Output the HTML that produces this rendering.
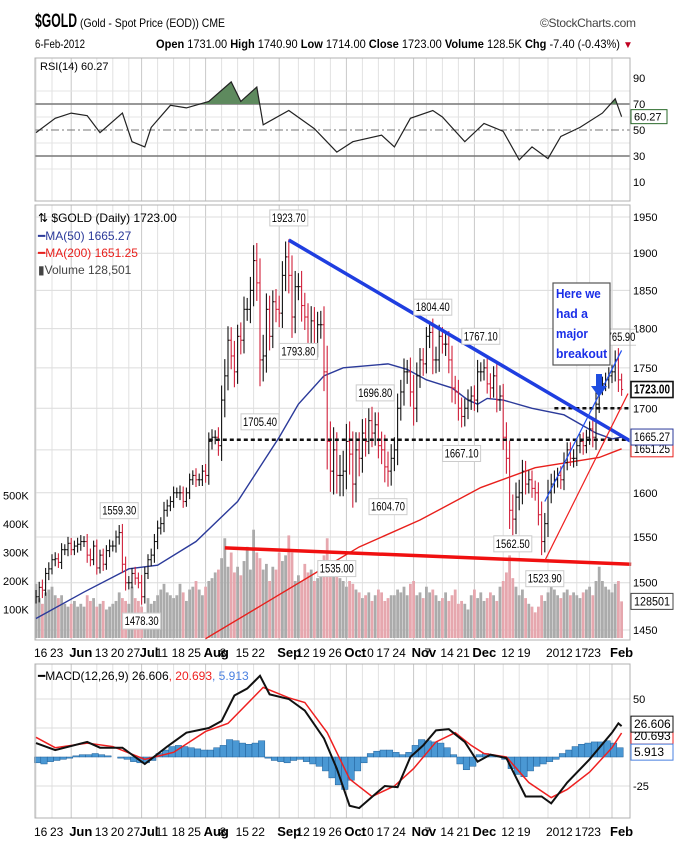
<!DOCTYPE html>
<html><head><meta charset="utf-8"><style>
html,body{margin:0;padding:0;background:#fff;}
svg{display:block;font-family:"Liberation Sans Narrow","Liberation Sans",sans-serif;}
</style></head><body>
<svg id="c" width="678" height="861" viewBox="0 0 678 861" xmlns="http://www.w3.org/2000/svg">
<rect width="678" height="861" fill="#fff"/>
<g>
<text x="35" y="27" font-size="19" font-weight="bold" textLength="42" lengthAdjust="spacingAndGlyphs">$GOLD</text>
<text x="80" y="27" font-size="12" textLength="145" lengthAdjust="spacingAndGlyphs">(Gold - Spot Price (EOD)) CME</text>
<text x="636" y="27" font-size="12" text-anchor="end" fill="#444" textLength="96">©StockCharts.com</text>
<text x="35" y="48" font-size="12" textLength="50" lengthAdjust="spacingAndGlyphs">6-Feb-2012</text>
<text x="156" y="48" font-size="12" textLength="464" lengthAdjust="spacingAndGlyphs"><tspan font-weight="bold">Open</tspan> 1731.00 <tspan font-weight="bold">High</tspan> 1740.90 <tspan font-weight="bold">Low</tspan> 1714.00 <tspan font-weight="bold">Close</tspan> 1723.00 <tspan font-weight="bold">Volume</tspan> 128.5K <tspan font-weight="bold">Chg</tspan> -7.40 (-0.43%)</text>
<text x="623" y="48" font-size="10" fill="#c00020">▼</text>
</g>
<g id="rsi"></g>
<g id="price"></g>
<g id="dates1"></g>
<g id="macd"></g>
<g id="dates2"></g>
</svg>
<script>
const closes=[1485,1495,1492,1510,1515, 1525,1526,1522,1536,1536, 1543,1536,1540,1542, 1545,1545,1530,1525,1540, 1516,1530,1520,1535,1540, 1540,1550,1555,1520,1500, 1500,1510,1505,1500,1485, 1510,1525,1530,1545, 1560,1565,1580,1585,1590, 1600,1600,1600,1590,1600, 1615,1620,1615,1615,1625, 1620,1660,1665,1665,1655, 1710,1740,1785,1765,1745, 1790,1785,1825,1825,1850, 1890,1860,1760,1765,1825, 1790,1835,1825,1820,1870, 1895,1870,1815,1855, 1855,1830,1815,1780,1810, 1780,1805,1805,1745,1660, 1625,1650,1620,1620,1625, 1660,1645,1610,1650,1640, 1670,1660,1685,1670,1680, 1655,1650,1630,1625,1640, 1650,1700,1720,1745,1745, 1720,1700,1740,1760,1755, 1790,1795,1760,1760,1790, 1780,1780,1760,1725,1720, 1700,1690,1700,1710, 1715,1710,1745,1745,1750, 1730,1725,1740,1710,1715, 1665,1640,1580,1570,1595, 1600,1625,1610,1615,1605, 1600,1575,1545,1565, 1600,1610,1615,1620, 1615,1635,1650,1640,1640, 1655,1660,1655,1665, 1675,1665,1705,1725,1730, 1735,1740,1745,1760,1735, 1723];
const spreads=[12,10,14,10,12, 10,12,10,12,10, 12,10,10,12, 12,10,14,12,10, 12,10,12,10,12, 10,12,14,16,14, 12,10,12,10,14, 12,10,12,14, 14,12,16,12,10, 12,10,14,12,10, 12,10,14,12,12, 14,18,16,14,20, 30,35,30,28,32, 25,30,28,25,30, 35,40,55,45,35, 30,25,28,30,32, 35,40,45,35, 30,35,28,30,32, 30,28,30,40,55, 40,45,35,40,40, 35,40,45,35,35, 28,30,25,28,25, 25,28,30,30,28, 25,30,25,28,25, 30,35,28,25,25, 20,25,30,28,25, 20,25,28,30,25, 25,22,20,22, 20,22,25,20,18, 20,22,20,25,22, 25,30,35,30,28, 25,22,20,18,18, 15,20,25,20, 25,20,18,15, 18,20,15,15,18, 15,15,18,15, 15,20,25,18,15, 15,18,15,20,25, 13];
const volumes=[190,140,120,160,170, 180,150,140,150,120, 110,120,130,110, 120,110,150,130,140, 110,120,130,100,110, 120,130,160,140,130, 120,180,140,130,110, 90,140,120,130, 150,170,190,160,150, 140,150,190,160,130, 170,180,200,170,150, 180,200,210,230,240, 280,350,250,300,230, 250,220,270,320,240, 380,300,280,240,260, 200,250,240,300,270, 290,360,300,200, 220,200,260,230,240, 200,210,220,290,350, 260,220,240,210,200, 180,200,190,170,160, 140,150,160,130,150, 170,160,130,140,150, 150,170,160,180,150, 190,200,150,160,140, 180,160,170,150,130, 140,160,130,150,170, 120,130,120,100, 150,170,140,160,130, 140,160,150,130,180, 200,230,290,210,180, 150,170,140,120,110, 90,110,150,130, 160,180,170,150, 140,160,170,150,160, 150,140,160,170, 180,150,200,250,200, 180,170,160,190,200, 128.5];
const ma50Idx=[0,15,29,38,50,63,70,76,82,90,96,110,116,122,130,135,138,141,146,155,165,175,180,183];
const ma50Val=[1462,1490,1515,1519,1545,1590,1630,1665,1705,1740,1750,1755,1748,1735,1725,1710,1705,1712,1710,1700,1692,1670,1663,1665.27];
const ma200Idx=[53,70,89,101,120,139,156,176,183];
const ma200Val=[1441,1475,1514,1539,1569,1606,1629,1641,1651.25];
const annIdx=[79,82,70,106,110,124,139,133,149,159,94,26,33,182];
const annVal=[1923.70,1793.80,1705.40,1696.80,1604.70,1804.40,1767.10,1667.10,1562.50,1523.90,1535.00,1559.30,1478.30,1765.90];
const annSide=[-1,1,1,-1,1,-1,-1,1,1,1,1,-1,1,-1];
const rsiIdx=[0,6,11,16,20,27,30,34,36,42,47,54,61,64,69,71,79,87,94,99,108,112,117,124,127,134,140,146,151,155,160,164,170,177,181,183];
const rsiVal=[48,59,63,61,48,63,41,37,52,69,67,72,87,72,83,54,65,51,33,41,46,37,59,65,60,41,55,49,27,37,28,45,52,63,74,60.27];
const macdIdx=[0,6,16,20,27,34,41,47,54,58,62,66,70,73,79,84,90,94,98,101,106,109,113,117,121,125,129,134,138,142,147,153,158,161,166,173,180,182,183];
const macdVal=[12,6,13,8,8,-6,9,21,25,31,53,59,70,54,50,40,16,-10,-42,-44,-32,-25,-26,0,10,23,24,13,-4,2,-1,-34,-34,-40,-22,-2,21,29,26.6];
const sigIdx=[0,6,16,24,34,43,53,60,71,79,84,91,98,105,112,118,125,131,136,140,147,154,161,166,173,180,183];
const sigVal=[17,8,12,9,-2,4,22,29,60,51,47,21,-19,-34,-25,-10,13,21,10,3,0,-22,-35,-28,-13,8,20.69];
const histVal=[-5,-6,-4,-3,-2,-1, 1,2,2,3,2,1,0,-1,-2, -4,-5,-5,-3, 3,6,9,10,9,8,7,6,6, 8,10,15,14,12,11,12,14, -1,-3,-4,-5,-3,-2,-4,-6,-8, -12,-18,-24,-28,-20,-12,-5, 3,5,6,6,4,2,4, 10,15,14,13,12,8,2, -6,-11,-8, 2,3,2,1,-2, -10,-15,-17,-12,-8, -6,-4,-2, 3,6,9,11,12,13,13,14,12,8];
const tickLabels=["16","23","Jun","13","20","27","Jul","11","18","25","Aug","8","15","22","Sep","12","19","26","Oct","10","17","24","Nov","7","14","21","Dec","12","19","2012","17","23","Feb"];
const tickIdx=[0,5,11,19,24,29,33,38,43,48,53,58,63,68,76,82,87,92,97,102,107,112,118,122,127,132,137,146,151,160,169,173,180];
const priceTicks=[1950,1900,1850,1800,1750,1700,1650,1600,1550,1500,1450];
const priceTickLabels=["1950","1900","1850","1800","1750","1700","","1600","1550","1500","1450"];
const volTicks=[500,400,300,200,100];
const rsiTicks=[90,70,50,30,10];
const macdTicks=[50,0,-25];

const L=35,R=630;
const X=i=>36+i*3.2;
const PY=p=>217+(Math.log(1950)-Math.log(p))*1394;
const VY=v=>638-v*0.285;
const RY=v=>130-(v-50)*1.3;
const MY=v=>757-v*1.16;
const NS="http://www.w3.org/2000/svg";
function mk(tag,attrs,parent,txt){const e=document.createElementNS(NS,tag);for(const k in attrs)e.setAttribute(k,attrs[k]);if(txt!==undefined)e.textContent=txt;parent.appendChild(e);return e;}
function vgrid(g,top,bot){
  tickIdx.forEach((d,k)=>{const month=isNaN(+tickLabels[k]);
    const l=mk('line',{x1:X(d),x2:X(d),y1:top,y2:bot,stroke:month?'#c8c8c8':'#e2e2e2','stroke-width':1},g);
    
    });}
function frame(g,top,bot){const r=mk('rect',{x:L,y:top,width:R-L,height:bot-top,fill:'none',stroke:'#b0b0b0'},g);
  
  }

(function(){
const g=document.getElementById('rsi');const top=58,bot=201;
vgrid(g,top,bot);
[80,60,40,20].forEach(v=>mk('line',{x1:L,x2:R,y1:RY(v),y2:RY(v),stroke:'#e4e4e4'},g));
rsiTicks.forEach(v=>{const t=mk('text',{x:633,y:RY(v)+4,'font-size':11},g,String(v));
  
  });
[70,30].forEach(v=>{const l=mk('line',{x1:L,x2:R,y1:RY(v),y2:RY(v),stroke:'#777','stroke-width':1.5},g);
  
  });
const m=mk('line',{x1:L,x2:R,y1:RY(50),y2:RY(50),stroke:'#777','stroke-dasharray':'8,3,2,3'},g);


const pts=rsiIdx.map((d,k)=>[d,rsiVal[k]]);
const cp=mk('clipPath',{id:'ob'},g);mk('rect',{x:L,y:top,width:R-L,height:RY(70)-top},cp);
const fillD='M'+pts.map(p=>X(p[0])+','+RY(p[1])).join('L')+'L'+X(183)+','+RY(70)+'L'+X(0)+','+RY(70)+'Z';
const f=mk('path',{d:fillD,fill:'#5e8a5e','clip-path':'url(#ob)'},g);


const p=mk('polyline',{points:pts.map(p=>X(p[0])+','+RY(p[1])).join(' '),fill:'none',stroke:'#222','stroke-width':1.2},g);


frame(g,top,bot);
const lbl=mk('text',{x:40,y:70,'font-size':11},g,'RSI(14) 60.27');


const bx=mk('rect',{x:631,y:RY(60.27)-7,width:36,height:14,fill:'#fff',stroke:'#2a6a2a'},g);


mk('text',{x:634,y:RY(60.27)+4,'font-size':11},g,'60.27');
})();

(function(){
const g=document.getElementById('price');const top=205,bot=640;
vgrid(g,top,bot);
priceTicks.forEach((p,k)=>{mk('line',{x1:L,x2:R,y1:PY(p),y2:PY(p),stroke:'#dcdcdc'},g);
  if(priceTickLabels[k]){const t=mk('text',{x:633,y:PY(p)+4,'font-size':11},g,priceTickLabels[k]);
  
  }});
volTicks.forEach(v=>{const t=mk('text',{x:3,y:VY(v)+4,'font-size':11},g,v+'K');
  
  });
const cp=mk('clipPath',{id:'pc'},g);mk('rect',{x:L,y:top,width:R-L+6,height:bot-top},cp);
const cg=mk('g',{'clip-path':'url(#pc)'},g);
volumes.forEach((v,i)=>{const down=i>0&&closes[i]<closes[i-1];
  const r=mk('rect',{x:X(i)-1.4,y:VY(v),width:2.8,height:638-VY(v),fill:down?'#e6a7ae':'#ababab'},cg);
  
  });
const ma=(idx,val,col,name)=>{const l=mk('polyline',{points:idx.map((d,k)=>X(d)+','+PY(val[k])).join(' '),fill:'none',stroke:col,'stroke-width':1.4},cg);
  
  };
ma(ma50Idx,ma50Val,'#2b3a9a','ma50-line');
ma(ma200Idx,ma200Val,'#e8201c','ma200-line');
closes.forEach((c,i)=>{const o=i>0?closes[i-1]:c;const down=c<o;const col=down?'#d0203a':'#111';
  const hi=Math.max(o,c)+spreads[i]*0.6,lo=Math.min(o,c)-spreads[i]*0.6;
  const bg=mk('g',{stroke:col,'stroke-width':1.1},cg);
  
  
  mk('line',{x1:X(i),x2:X(i),y1:PY(hi),y2:PY(lo)},bg);
  mk('line',{x1:X(i)-1.5,x2:X(i),y1:PY(o),y2:PY(o)},bg);
  mk('line',{x1:X(i),x2:X(i)+1.5,y1:PY(c),y2:PY(c)},bg);});
const tl=(i1,p1,i2,p2,col,w,name,dash)=>{const a={x1:X(i1),y1:PY(p1),x2:X(i2),y2:PY(p2),stroke:col,'stroke-width':w};if(dash)a['stroke-dasharray']=dash;
  const l=mk('line',a,cg);};
tl(54,1662,186,1662,'#111',2.5,'support-dashed-line','4,3');
tl(162,1700,186,1700,'#111',2.5,'breakout-dashed-line','4,3');
tl(79,1918,186,1660,'#1f3ee0',3.5,'downtrend-line');
tl(59,1538,186,1520,'#f01010',3.5,'horizontal-support-line');
tl(159,1590,183,1772,'#2050f0',1.2,'uptrend-channel-upper');
tl(159,1523.9,185,1718,'#f02020',1.2,'uptrend-channel-lower');
annIdx.forEach((d,k)=>{const v=annVal[k];const s=annSide[k];const y=PY(v)+s*18;const txt=v.toFixed(2);
  const ag=mk('g',{},cg);
  
  
  mk('rect',{x:X(d)-19,y:y-8,width:38,height:16,fill:'#fff',stroke:'#ccc'},ag);
  mk('text',{x:X(d),y:y+4,'font-size':11.5,'text-anchor':'middle',textLength:34,lengthAdjust:'spacingAndGlyphs'},ag,txt);});
const bg=mk('g',{},g);


mk('rect',{x:553,y:283,width:57,height:82,fill:'#fff',stroke:'#555','stroke-width':1.2},bg);
['Here we','had a','major','breakout'].forEach((t,k)=>mk('text',{x:556,y:298+k*20,'font-size':13,'font-weight':'bold',fill:'#1a2ee8',textLength:t.length*6.4>52?52:t.length*6.4,lengthAdjust:'spacingAndGlyphs'},bg,t));
const ar=mk('path',{d:'M596,374 h6 v12 h5 l-8,11 l-8,-11 h5 z',fill:'#1f4ee0'},g);


frame(g,top,bot);
const lg=mk('g',{'font-size':12},g);


mk('text',{x:38,y:222},lg,'⇅ $GOLD (Daily) 1723.00');
mk('text',{x:38,y:240,fill:'#2b3a9a'},lg,'━MA(50) 1665.27');
mk('text',{x:38,y:257,fill:'#e8201c'},lg,'━MA(200) 1651.25');
mk('text',{x:38,y:274,fill:'#444'},lg,'▮Volume 128,501');
const vb=(y,txt,col,bold,name)=>{const b=mk('g',{},g);
  mk('rect',{x:631,y:y-8,width:42,height:16,fill:'#fff',stroke:col,'stroke-width':bold?1.6:1},b);
  mk('text',{x:634,y:y+4,'font-size':bold?13:12,'font-weight':bold?'bold':'normal',textLength:36,lengthAdjust:'spacingAndGlyphs'},b,txt);};
vb(PY(1651.25),'1651.25','#e8201c',false,'ma200-value-box');
vb(PY(1665.27),'1665.27','#2b3a9a',false,'ma50-value-box');
vb(PY(1723),'1723.00','#111',true,'last-price-box');
vb(VY(128.5),'128501','#444',false,'volume-value-box');
})();

function dates(id,y){const g=document.getElementById(id);
  tickIdx.forEach((d,k)=>{const month=isNaN(+tickLabels[k]);
    const t=mk('text',{x:X(d)-2,y:y,'font-size':month?13:12,'font-weight':month?'bold':'normal'},g,tickLabels[k]);
    
    });}
dates('dates1',657);dates('dates2',836);

(function(){
const g=document.getElementById('macd');const top=664,bot=818;
vgrid(g,top,bot);
[50,25,-25].forEach(v=>mk('line',{x1:L,x2:R,y1:MY(v),y2:MY(v),stroke:'#dcdcdc'},g));
macdTicks.forEach(v=>{if(v===0)return;const t=mk('text',{x:633,y:MY(v)+4,'font-size':11},g,String(v));
  
  });
histVal.forEach((v,k)=>{const i=k*2;const y1=Math.min(MY(0),MY(v));
  const r=mk('rect',{x:X(i)-1.6,y:y1,width:6.4,height:Math.abs(MY(v)-MY(0)),fill:'#4a98d4',stroke:'#1f5f98','stroke-width':0.5},g);
  
  });
const sl=mk('polyline',{points:sigIdx.map((d,k)=>X(d)+','+MY(sigVal[k])).join(' '),fill:'none',stroke:'#ee2020','stroke-width':1.5},g);


const ml=mk('polyline',{points:macdIdx.map((d,k)=>X(d)+','+MY(macdVal[k])).join(' '),fill:'none',stroke:'#111','stroke-width':2},g);


frame(g,top,bot);
const lg=mk('text',{x:38,y:680,'font-size':12},g);


mk('tspan',{},lg,'━MACD(12,26,9) 26.606');mk('tspan',{fill:'#ee2020'},lg,', 20.693');mk('tspan',{fill:'#4a80e0'},lg,', 5.913');
const vb=(y,txt,col,name)=>{const b=mk('g',{},g);
  mk('rect',{x:631,y:y-8,width:42,height:16,fill:'#fff',stroke:col},b);
  mk('text',{x:634,y:y+4,'font-size':12},b,txt);};
vb(MY(20.69)+3,'20.693','#ee2020','signal-value-box');
vb(MY(26.6)-2,'26.606','#111','macd-value-box');
vb(MY(5.913)+2,'5.913','#4a80e0','histogram-value-box');
})();
</script>
</body></html>
